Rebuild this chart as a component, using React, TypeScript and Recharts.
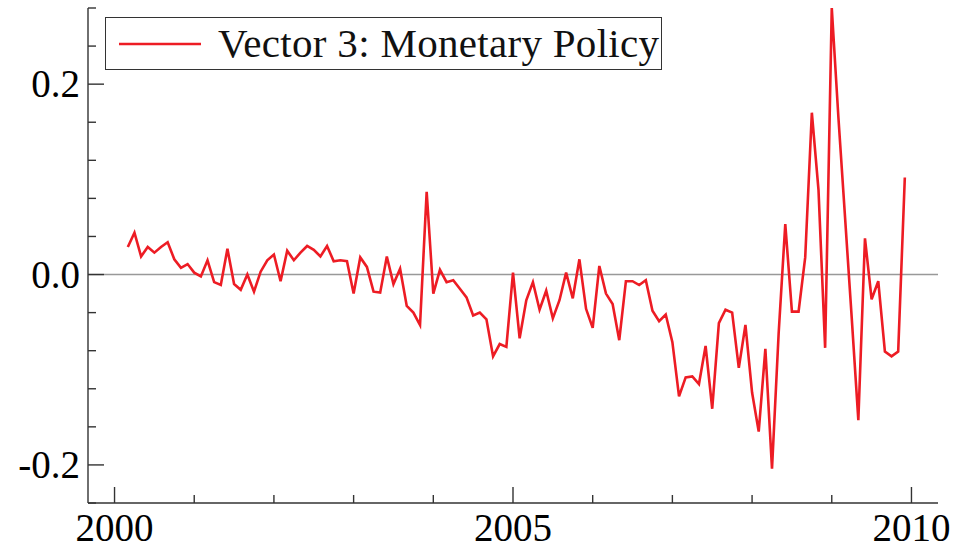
import React from 'react';
import { LineChart, Line, XAxis, YAxis, ReferenceLine, Legend } from 'recharts';

// monthly values, 2000 starts in March
const values2000 = [0.029, 0.044, 0.019, 0.029, 0.023, 0.029, 0.034, 0.016, 0.007, 0.011];
const values2001 = [0.002, -0.002, 0.015, -0.008, -0.011, 0.027, -0.010, -0.016, 0.000, -0.018, 0.003, 0.015];
const values2002 = [0.021, -0.007, 0.025, 0.015, 0.023, 0.030, 0.026, 0.019, 0.030, 0.014, 0.015, 0.014];
const values2003 = [-0.020, 0.018, 0.008, -0.018, -0.019, 0.019, -0.010, 0.006, -0.033, -0.040, -0.053, 0.087];
const values2004 = [-0.020, 0.005, -0.008, -0.006, -0.015, -0.024, -0.043, -0.040, -0.047, -0.086, -0.073, -0.076];
const values2005 = [0.002, -0.067, -0.027, -0.008, -0.037, -0.017, -0.046, -0.027, 0.002, -0.025, 0.016, -0.036];
const values2006 = [-0.056, 0.009, -0.020, -0.031, -0.069, -0.007, -0.007, -0.011, -0.006, -0.038, -0.049, -0.042];
const values2007 = [-0.071, -0.128, -0.108, -0.107, -0.115, -0.075, -0.141, -0.051, -0.037, -0.040, -0.098, -0.053];
const values2008 = [-0.124, -0.165, -0.078, -0.204, -0.062, 0.053, -0.039, -0.039, 0.018, 0.170, 0.089, -0.077];
const values2009 = [0.280, 0.165, 0.060, -0.045, -0.153, 0.038, -0.026, -0.007, -0.081, -0.086, -0.081, 0.102];

const years = [2000, 2001, 2002, 2003, 2004, 2005, 2006, 2007, 2008, 2009];
const yearValues = [values2000, values2001, values2002, values2003, values2004, values2005, values2006, values2007, values2008, values2009];

const xTicks = [2000, 2001, 2002, 2003, 2004, 2005, 2006, 2007, 2008, 2009, 2010];
const xLabels = [2000, 2005, 2010];
const yTicks = [-0.24, -0.2, -0.16, -0.12, -0.08, -0.04, 0, 0.04, 0.08, 0.12, 0.16, 0.2, 0.24, 0.28];
const yLabels = [-0.2, 0, 0.2];

const seriesName = 'Vector 3: Monetary Policy';

const data = years.flatMap((yr, k) => {
  const vals = yearValues[k];
  const offset = 12 - vals.length;
  return vals.map((v, i) => ({ date: yr + (offset + i) / 12, value: v }));
});

const FONT = '"Liberation Serif", "Times New Roman", serif';
const AXIS = '#333';
const RED = '#ed1c24';

const XTick = (props: any) => {
  const { x, y, payload } = props;
  const major = xLabels.includes(payload.value);
  return (
    <g>
      <line x1={x} x2={x} y1={y} y2={y - (major ? 16 : 8)} stroke={AXIS} strokeWidth={1.4} />
      {major && (
        <text x={x} y={y + 38} textAnchor="middle" fontFamily={FONT} fontSize={39} fill="#000">
          {payload.value}
        </text>
      )}
    </g>
  );
};

const YTick = (props: any) => {
  const { x, y, payload } = props;
  const major = yLabels.some((l) => Math.abs(l - payload.value) < 1e-9);
  return (
    <g>
      <line x1={x} x2={x + (major ? 16 : 8)} y1={y} y2={y} stroke={AXIS} strokeWidth={1.4} />
      {major && (
        <text x={x - 8} y={y + 13} textAnchor="end" fontFamily={FONT} fontSize={39} fill="#000">
          {payload.value.toFixed(1)}
        </text>
      )}
    </g>
  );
};

const LegendBox = () => (
  <div
    style={{
      position: 'relative',
      width: 557,
      height: 53,
      boxSizing: 'border-box',
      border: `1.4px solid ${AXIS}`,
      background: '#fff',
    }}
  >
    <svg width={100} height={53} style={{ position: 'absolute', left: 0, top: 0 }}>
      <line x1={13} x2={95} y1={26} y2={26} stroke={RED} strokeWidth={2.6} />
    </svg>
    <span
      style={{
        position: 'absolute',
        left: 112,
        top: 0,
        lineHeight: '51px',
        fontFamily: FONT,
        fontSize: 41,
        letterSpacing: 0.3,
        color: '#111',
        whiteSpace: 'nowrap',
      }}
    >
      {seriesName}
    </span>
  </div>
);

export default function App() {
  return (
    <div style={{ position: 'absolute', left: 0, top: 0, width: 970, height: 549, background: '#fff' }}>
      <LineChart width={970} height={549} data={data} margin={{ top: 8, right: 32, bottom: 0, left: 0 }}>
        <XAxis
          dataKey="date"
          type="number"
          domain={[1999.667, 2010.333]}
          ticks={xTicks}
          interval={0}
          allowDataOverflow
          height={46}
          tickSize={0}
          tickMargin={0}
          tickLine={false}
          axisLine={{ stroke: AXIS, strokeWidth: 1.4 }}
          tick={<XTick />}
        />
        <YAxis
          type="number"
          domain={[-0.24, 0.28]}
          ticks={yTicks}
          interval={0}
          allowDataOverflow
          width={88}
          tickSize={0}
          tickMargin={0}
          tickLine={false}
          axisLine={{ stroke: AXIS, strokeWidth: 1.4 }}
          tick={<YTick />}
        />
        <ReferenceLine y={0} stroke="#999" strokeWidth={1.5} />
        <Legend
          layout="horizontal"
          verticalAlign="middle"
          align="center"
          wrapperStyle={{ left: 105, top: 17, width: 557, height: 53 }}
          content={() => <LegendBox />}
        />
        <Line
          type="linear"
          dataKey="value"
          name={seriesName}
          stroke={RED}
          strokeWidth={2.6}
          dot={false}
          activeDot={false}
          isAnimationActive={false}
        />
      </LineChart>
    </div>
  );
}
